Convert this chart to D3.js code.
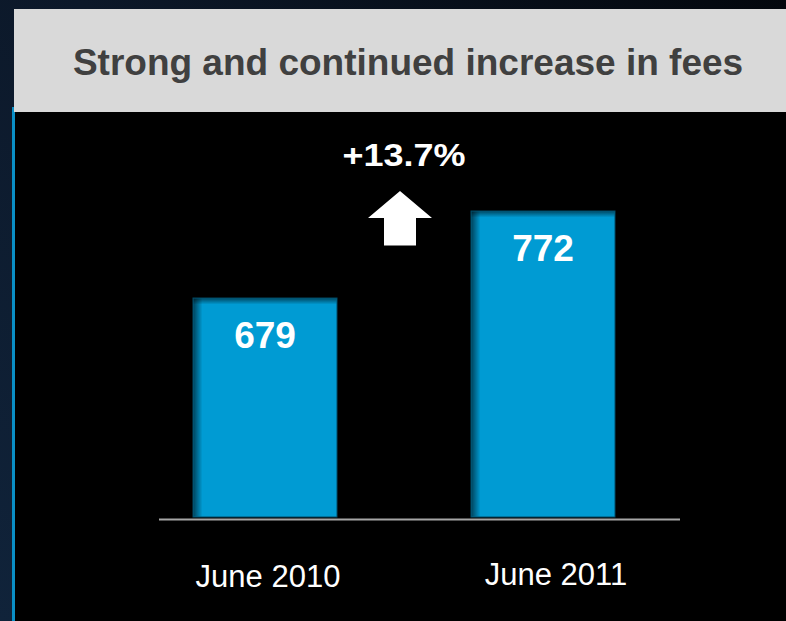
<!DOCTYPE html>
<html>
<head>
<meta charset="utf-8">
<script src="https://cdn.jsdelivr.net/npm/d3@7"></script>
<style>
  html, body { margin: 0; padding: 0; background: #000; }
  svg { display: block; }
</style>
</head>
<body>
<svg id="chart" width="786" height="621"></svg>
<script>
// ---- data ----
const title = "Strong and continued increase in fees";
const categories = ["June 2010", "June 2011"];
const fees = [679, 772];
const changeLabel = "+13.7%";
const axisBase = 445; // value at the baseline of the (truncated) bar axis

const W = 786, H = 621;
const FONT = "Liberation Sans, Arial, sans-serif";
const svg = d3.select("#chart");
const defs = svg.append("defs");

// background gradient
const bg = defs.append("linearGradient").attr("id", "bg")
  .attr("x1", "0%").attr("y1", "100%").attr("x2", "100%").attr("y2", "0%");
bg.append("stop").attr("offset", "0%").attr("stop-color", "#10233a");
bg.append("stop").attr("offset", "55%").attr("stop-color", "#0c1829");
bg.append("stop").attr("offset", "100%").attr("stop-color", "#03070d");
svg.append("rect").attr("width", W).attr("height", H).attr("fill", "url(#bg)");

// black panel
svg.append("rect").attr("x", 15).attr("y", 111).attr("width", W - 15).attr("height", H - 111).attr("fill", "#000");
// blue side line
svg.append("rect").attr("x", 12).attr("y", 107).attr("width", 3).attr("height", H - 107).attr("fill", "#0a8fc6");

// title band
svg.append("rect").attr("x", 14).attr("y", 9).attr("width", W - 14).attr("height", 103).attr("fill", "#d9d9d9");
svg.append("text").attr("x", 408).attr("y", 75).attr("text-anchor", "middle")
  .attr("font-family", FONT).attr("font-weight", "bold")
  .attr("font-size", 37).attr("fill", "#404040").text(title);

// scales
const x = d3.scaleBand().domain(categories).range([126, 682]).paddingInner(0.482).paddingOuter(0.241);
const xLabel = d3.scalePoint().domain(categories).range([268, 556]);
const y = d3.scaleLinear().domain([axisBase, d3.max(fees)]).range([517, 211]);

// bar shading gradients
const gl = defs.append("linearGradient").attr("id", "shadeL").attr("x1", "0").attr("x2", "1").attr("y1", "0").attr("y2", "0");
gl.append("stop").attr("offset", "0").attr("stop-color", "#000").attr("stop-opacity", 0.55);
gl.append("stop").attr("offset", "1").attr("stop-color", "#000").attr("stop-opacity", 0);
const gt = defs.append("linearGradient").attr("id", "shadeT").attr("x1", "0").attr("x2", "0").attr("y1", "0").attr("y2", "1");
gt.append("stop").attr("offset", "0").attr("stop-color", "#000").attr("stop-opacity", 0.5);
gt.append("stop").attr("offset", "1").attr("stop-color", "#000").attr("stop-opacity", 0);

const data = categories.map((c, i) => ({ c, v: fees[i] }));
const bars = svg.append("g").selectAll("g").data(data).join("g");
bars.append("rect")
  .attr("x", d => x(d.c)).attr("y", d => y(d.v))
  .attr("width", x.bandwidth()).attr("height", d => y(axisBase) - y(d.v))
  .attr("fill", "#009bd3").attr("stroke", "#004a66").attr("stroke-width", 1);
bars.append("rect")
  .attr("x", d => x(d.c) + 0.5).attr("y", d => y(d.v) + 0.5)
  .attr("width", 9).attr("height", d => y(axisBase) - y(d.v) - 1)
  .attr("fill", "url(#shadeL)");
bars.append("rect")
  .attr("x", d => x(d.c) + 0.5).attr("y", d => y(d.v) + 0.5)
  .attr("width", x.bandwidth() - 1).attr("height", 6)
  .attr("fill", "url(#shadeT)");
bars.append("text")
  .attr("x", d => x(d.c) + x.bandwidth() / 2).attr("y", d => y(d.v) + 50)
  .attr("text-anchor", "middle")
  .attr("font-family", FONT).attr("font-weight", "bold")
  .attr("font-size", 37).attr("fill", "#fff").text(d => d.v);

// baseline axis
svg.append("line").attr("x1", 159).attr("x2", 680).attr("y1", 519.5).attr("y2", 519.5)
  .attr("stroke", "#a6a6a6").attr("stroke-width", 2);

// category labels
svg.append("g").selectAll("text").data(categories).join("text")
  .attr("x", d => xLabel(d)).attr("y", (d, i) => i === 0 ? 587 : 585)
  .attr("text-anchor", "middle")
  .attr("font-family", FONT)
  .attr("font-size", 31).attr("fill", "#fff").text(d => d);

// change label + arrow
const mid = (x(categories[0]) + x(categories[1]) + x.bandwidth()) / 2;
svg.append("text")
  .attr("transform", `translate(${mid},166) scale(1,0.86)`)
  .attr("text-anchor", "middle")
  .attr("font-family", FONT).attr("font-weight", "bold")
  .attr("font-size", 36).attr("fill", "#fff").text(changeLabel);

const ax = mid - 4;
const arrow = d3.path();
arrow.moveTo(ax, 191);
arrow.lineTo(ax + 32, 218);
arrow.lineTo(ax + 16, 218);
arrow.lineTo(ax + 16, 245.5);
arrow.lineTo(ax - 16, 245.5);
arrow.lineTo(ax - 16, 218);
arrow.lineTo(ax - 32, 218);
arrow.closePath();
svg.append("path").attr("d", arrow.toString()).attr("fill", "#fff");
</script>
</body>
</html>
